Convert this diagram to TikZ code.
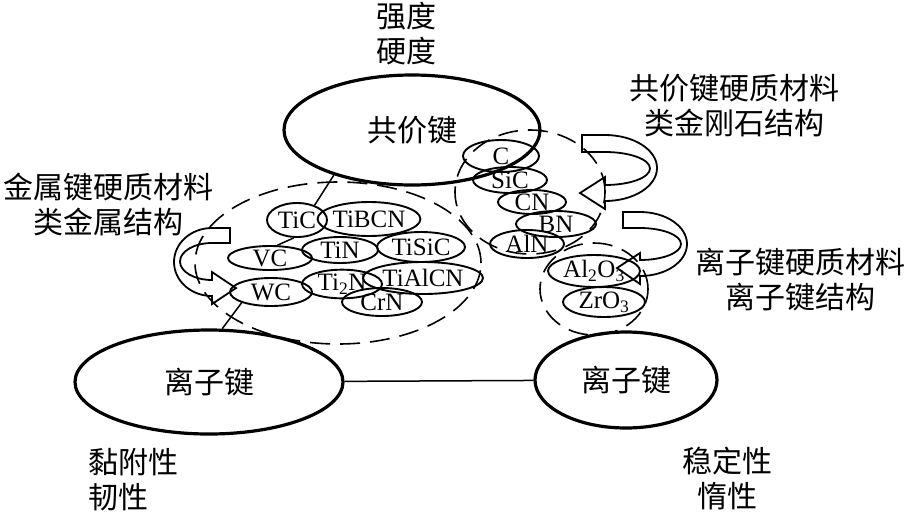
\documentclass[tikz,border=0pt]{standalone}
\usepackage{fontspec}
\setmainfont{Liberation Serif}
\newfontfamily\cjk{Noto Sans CJK SC}
\usetikzlibrary{positioning, shapes.geometric}

\begin{document}
\begin{tikzpicture}[
  x=1pt, y=-1pt,
  every node/.style={inner sep=0pt},
  bond/.style={ellipse, draw, line width=3.2pt, font=\cjk\fontsize{30}{35}\selectfont},
  cpd/.style={ellipse, draw, line width=1.9pt, font=\fontsize{25}{28}\selectfont},
  grp/.style={draw, line width=1.6pt, dash pattern=on 20pt off 10pt},
  turn/.style={draw, line width=1.8pt, line join=miter},
  link/.style={draw, line width=1.5pt},
  tag/.style={align=center, font=\cjk\fontsize{30}{35}\selectfont},
]
  \useasboundingbox (0,0) rectangle (910,515);

  % bond types
  \node[bond, minimum width=256pt, minimum height=110pt] (cov) at (412,130) {共价键};
  \node[bond, minimum width=268pt, minimum height=104pt] (lion) at (209,382) {离子键};
  \node[bond, minimum width=182pt, minimum height=96pt] (rion) at (626,380) {离子键};

  % property / class labels
  \node[tag] (hard) at (406,34) {强度\\硬度};
  \node[tag] (covtxt) at (734,106) {共价键硬质材料\\类金刚石结构};
  \node[tag] (mettxt) at (108,204) {金属键硬质材料\\类金属结构};
  \node[tag] (iontxt) at (800,280) {离子键硬质材料\\离子键结构};
  \node[tag, align=left] (adh) at (133,480) {黏附性\\韧性};
  \node[tag] (stab) at (727,478) {稳定性\\惰性};

  % metallic group
  \node[cpd, minimum width=60pt, minimum height=34pt] (tic) at (297,220) {TiC};
  \node[cpd, minimum width=100pt, minimum height=34pt] (tibcn) at (369,219) {TiBCN};
  \node[cpd, minimum width=76pt, minimum height=26pt] (tin) at (340,250) {TiN};
  \node[cpd, minimum width=88pt, minimum height=30pt] (tisic) at (421,247) {TiSiC};
  \node[cpd, minimum width=84pt, minimum height=24pt] (vc) at (270,258) {VC};
  \node[cpd, minimum width=82pt, minimum height=28pt] (wc) at (271,292) {WC};
  \node[cpd, minimum width=80pt, minimum height=28pt] (titn) at (342,284) {Ti\textsubscript{2}N};
  \node[cpd, minimum width=120pt, minimum height=32pt] (tialcn) at (423,278) {TiAlCN};
  \node[cpd, minimum width=80pt, minimum height=28pt] (crn) at (382,302) {CrN};

  % covalent group
  \node[cpd, minimum width=76pt, minimum height=32pt] (c) at (501,156) {C};
  \node[cpd, minimum width=74pt, minimum height=26pt] (sic) at (510,180) {SiC};
  \node[cpd, minimum width=68pt, minimum height=24pt] (cn) at (532,202) {CN};
  \node[cpd, minimum width=80pt, minimum height=26pt] (bn) at (556,224) {BN};
  \node[cpd, minimum width=74pt, minimum height=28pt] (aln) at (527,244) {AlN};

  % ionic group
  \node[cpd, minimum width=92pt, minimum height=32pt] (alo) at (594,271) {Al\textsubscript{2}O\textsubscript{3}};
  \node[cpd, minimum width=82pt, minimum height=30pt] (zro) at (604,302) {ZrO\textsubscript{3}};

  \draw[grp] (338,263) ellipse [x radius=143pt, y radius=81pt];
  \draw[grp] (530,192) ellipse [x radius=75pt, y radius=62pt];
  \draw[grp] (594,289) ellipse [x radius=54pt, y radius=46pt];

  \draw[link] (tic.40) -- (cov.210);
  \draw[link] (tic.260) -- (vc.60);
  \draw[link] (wc.200) -- (lion.76);
  \draw[link] (lion) -- (rion);

  % turning arrows
  \draw[turn] (230,228) -- (212,228) arc[start angle=90, end angle=270, x radius=38pt, y radius=34pt]
    -- (212,304) -- (236,288) -- (212,272) -- (212,280)
    arc[start angle=270, end angle=90, x radius=32pt, y radius=18.5pt] -- (230,243) -- cycle;
  \draw[turn] (582,135) -- (605,135) arc[start angle=90, end angle=-90, x radius=52pt, y radius=33pt]
    -- (605,209) -- (580,193) -- (605,177) -- (605,185)
    arc[start angle=-90, end angle=90, x radius=45pt, y radius=16.5pt] -- (582,152) -- cycle;
  \draw[turn] (623,212) -- (640,212) arc[start angle=90, end angle=-90, x radius=47pt, y radius=32pt]
    -- (640,284) -- (617,268) -- (640,253) -- (640,260)
    arc[start angle=-90, end angle=90, x radius=41pt, y radius=16pt] -- (623,228) -- cycle;
\end{tikzpicture}
\end{document}
